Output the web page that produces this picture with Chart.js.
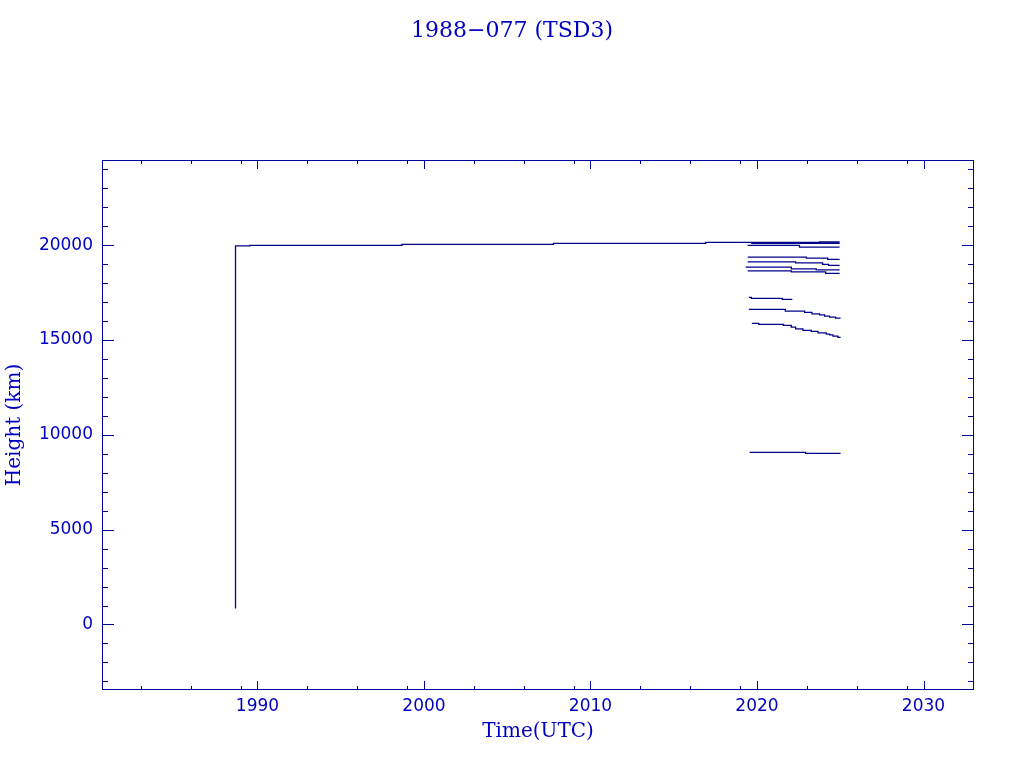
<!DOCTYPE html>
<html>
<head>
<meta charset="utf-8">
<title>1988-077 (TSD3)</title>
<script src="https://cdn.jsdelivr.net/npm/chart.js@4.4.1/dist/chart.umd.min.js"></script>
<style>
  html, body { margin: 0; padding: 0; background: #fff; }
  #wrap { width: 1024px; height: 768px; }
</style>
</head>
<body>
<div id="wrap"><canvas id="heightChart"></canvas></div>
<script>
// each track: times (decimal year) and heights (km), stepped
const mainT = [1988.68, 1988.68, 1989.54, 1998.68, 2007.78, 2016.92, 2023.76, 2024.96];
const mainH = [843, 19963, 19984, 20036, 20090, 20142, 20175, 20175];

const debrisAT = [2019.66, 2024.96];
const debrisAH = [20115, 20115];
const debrisBT = [2019.66, 2024.96];
const debrisBH = [20088, 20088];
const debrisCT = [2019.44, 2022.55, 2024.96];
const debrisCH = [19984, 19895, 19895];
const debrisDT = [2019.44, 2022.96, 2024.25, 2024.96];
const debrisDH = [19367, 19315, 19246, 19246];
const debrisET = [2019.44, 2022.32, 2023.94, 2024.30, 2024.96];
const debrisEH = [19119, 19066, 18982, 18930, 18930];
const debrisFT = [2019.32, 2022.06, 2023.56, 2024.96];
const debrisFH = [18840, 18750, 18697, 18697];
const debrisGT = [2019.44, 2022.06, 2024.12, 2024.96];
const debrisGH = [18645, 18592, 18508, 18508];
const debrisHT = [2019.51, 2019.66, 2021.52, 2022.12];
const debrisHH = [17242, 17190, 17137, 17137];
const debrisIT = [2019.51, 2021.70, 2022.86, 2023.30, 2023.76, 2024.06, 2024.36, 2024.72, 2025.02];
const debrisIH = [16610, 16520, 16452, 16377, 16325, 16256, 16204, 16151, 16151];
const debrisJT = [2019.69, 2020.11, 2021.59, 2022.06, 2022.32, 2022.76, 2023.26, 2023.66, 2024.16, 2024.36, 2024.56, 2024.86, 2025.02];
const debrisJH = [15871, 15819, 15766, 15676, 15587, 15503, 15450, 15376, 15307, 15270, 15202, 15133, 15133];
const debrisKT = [2019.56, 2022.92, 2025.02];
const debrisKH = [9069, 9017, 9017];

// axis ticks
const xMajor = [1990, 2000, 2010, 2020, 2030];
const xMinor = [1983, 1986, 1989, 1993, 1996, 1999, 2003, 2006, 2009, 2013, 2016, 2019, 2023, 2026, 2029];
const yMajor = [0, 5000, 10000, 15000, 20000];
const yMinor = [];
for (let v = -3000; v <= 24000; v += 1000) if (!yMajor.includes(v)) yMinor.push(v);

const lineColor = '#000088';
const axisColor = '#00009a';
const textColor = '#0000c0';

const tracks = [
  [mainT, mainH], [debrisAT, debrisAH], [debrisBT, debrisBH], [debrisCT, debrisCH],
  [debrisDT, debrisDH], [debrisET, debrisEH], [debrisFT, debrisFH], [debrisGT, debrisGH],
  [debrisHT, debrisHH], [debrisIT, debrisIH], [debrisJT, debrisJH], [debrisKT, debrisKH]
];

const datasets = tracks.map(([t, h]) => ({
  data: t.map((x, i) => ({ x: x, y: h[i] })),
  borderColor: lineColor,
  borderWidth: 1.3,
  pointRadius: 0,
  stepped: true,
  fill: false
}));

function tickList(major, minor) {
  return major.concat(minor).sort((a, b) => a - b).map(v => ({ value: v }));
}

// inward ticks on all four sides, plus the frame
const boxTicks = {
  id: 'boxTicks',
  afterDraw(chart) {
    const { ctx, chartArea: a, scales: { x, y } } = chart;
    ctx.save();
    ctx.strokeStyle = axisColor;
    ctx.lineWidth = 1;
    ctx.strokeRect(a.left + 0.5, a.top + 0.5, a.right - a.left - 1, a.bottom - a.top - 1);
    ctx.beginPath();
    x.ticks.forEach(t => {
      const px = Math.round(x.getPixelForValue(t.value)) + 0.5;
      if (px < a.left + 1 || px > a.right - 1) return;
      const len = xMajor.includes(t.value) ? 9 : 4;
      ctx.moveTo(px, a.bottom); ctx.lineTo(px, a.bottom - len);
      ctx.moveTo(px, a.top); ctx.lineTo(px, a.top + len);
    });
    y.ticks.forEach(t => {
      const py = Math.round(y.getPixelForValue(t.value)) + 0.5;
      if (py < a.top + 1 || py > a.bottom - 1) return;
      const len = yMajor.includes(t.value) ? 12 : 6;
      ctx.moveTo(a.left, py); ctx.lineTo(a.left + len, py);
      ctx.moveTo(a.right, py); ctx.lineTo(a.right - len, py);
    });
    ctx.stroke();
    ctx.restore();
  }
};

new Chart(document.getElementById('heightChart'), {
  type: 'line',
  data: { datasets: datasets },
  options: {
    responsive: true,
    maintainAspectRatio: false,
    animation: false,
    layout: { padding: 0 },
    plugins: {
      legend: { display: false },
      tooltip: { enabled: false },
      title: {
        display: true,
        text: '1988\u2212077 (TSD3)',
        color: textColor,
        font: { family: 'DejaVu Serif', size: 22, weight: 'normal', lineHeight: 1 },
        padding: { top: 20, bottom: 118 }
      }
    },
    scales: {
      x: {
        type: 'linear',
        min: 1980.661,
        max: 2033.033,
        afterBuildTicks: s => { s.ticks = tickList(xMajor, xMinor); },
        afterFit: s => { s.height = 78; },
        grid: { display: false },
        border: { display: false },
        ticks: {
          autoSkip: false,
          maxRotation: 0,
          padding: -2,
          color: textColor,
          font: { family: 'DejaVu Sans', size: 17 },
          callback: v => xMajor.includes(v) ? String(v) : ''
        },
        title: {
          display: true,
          text: 'Time(UTC)',
          color: textColor,
          font: { family: 'DejaVu Serif', size: 20 },
          padding: { top: 0, bottom: 24 }
        }
      },
      y: {
        type: 'linear',
        min: -3453,
        max: 24486,
        afterBuildTicks: s => { s.ticks = tickList(yMajor, yMinor); },
        afterFit: s => { s.width = 102; },
        grid: { display: false },
        border: { display: false },
        ticks: {
          autoSkip: false,
          padding: 1,
          color: textColor,
          font: { family: 'DejaVu Sans', size: 17 },
          callback: v => yMajor.includes(v) ? String(v) : ''
        },
        title: {
          display: true,
          text: 'Height (km)',
          color: textColor,
          font: { family: 'DejaVu Serif', size: 20 },
          padding: { top: 3, bottom: 0 }
        }
      },
      yRight: {
        type: 'linear',
        position: 'right',
        afterFit: s => { s.width = 50; },
        grid: { display: false },
        border: { display: false },
        ticks: { display: false },
        title: { display: false }
      }
    }
  },
  plugins: [boxTicks]
});
</script>
</body>
</html>
